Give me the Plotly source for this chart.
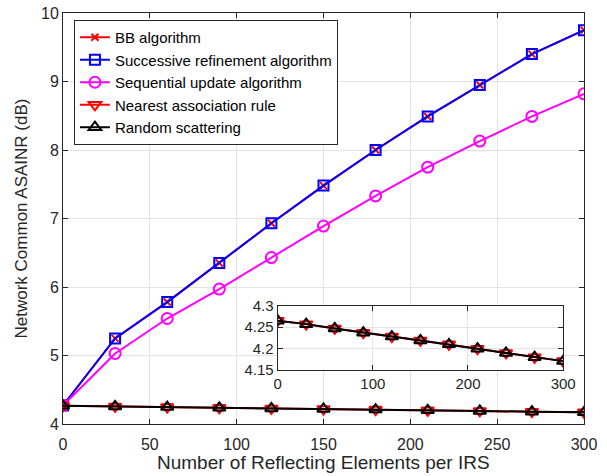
import plotly.graph_objects as go

elements = [0, 30, 60, 90, 120, 150, 180, 210, 240, 270, 300]
bb_alg = [4.27, 5.25, 5.78, 6.35, 6.93, 7.48, 8.00, 8.49, 8.95, 9.40, 9.75]
successive = [4.27, 5.25, 5.78, 6.35, 6.93, 7.48, 8.00, 8.49, 8.95, 9.40, 9.75]
sequential = [4.27, 5.03, 5.54, 5.97, 6.43, 6.89, 7.33, 7.75, 8.13, 8.49, 8.82]
nearest = [4.265, 4.257, 4.247, 4.237, 4.228, 4.219, 4.210, 4.200, 4.190, 4.180, 4.171]
random_sc = [4.265, 4.257, 4.247, 4.237, 4.228, 4.219, 4.210, 4.200, 4.190, 4.180, 4.171]

x_title = "Number of Reflecting Elements per IRS"
y_title = "Network Common ASAINR (dB)"

FONT = "Liberation Sans, Arial, sans-serif"
TXT = "#262626"
fig = go.Figure()

def add(y, name, color, symbol, size, xa="x", ya="y", show=True, lw=2, mlw=2):
    fig.add_trace(go.Scatter(
        x=elements, y=y, name=name, mode="lines+markers",
        line=dict(color=color, width=lw),
        marker=dict(symbol=symbol, size=size, color=color, line=dict(color=color, width=mlw)),
        xaxis=xa, yaxis=ya, showlegend=show))

add(bb_alg, "BB algorithm", "#ff0000", "x-thin-open", 7)
add(successive, "Successive refinement algorithm", "#0000ff", "square-open", 10)
add(sequential, "Sequential update algorithm", "#ff00ff", "circle-open", 11)
add(nearest, "Nearest association rule", "#ff0000", "triangle-down-open", 11)
add(random_sc, "Random scattering", "#000000", "triangle-up-open", 11)

# inset
add(nearest, "Nearest association rule", "#ff0000", "triangle-down-open", 11, "x2", "y2", False)
add(random_sc, "Random scattering", "#000000", "triangle-up-open", 11, "x2", "y2", False)

def axis_common(fs):
    return dict(showline=True, linecolor=TXT, linewidth=1, mirror="ticks",
                ticks="inside", ticklen=5, tickcolor=TXT, automargin=False,
                showgrid=True, gridcolor="#e3e3e3", gridwidth=1, zeroline=False,
                tickfont=dict(family=FONT, size=fs, color=TXT))

fig.update_layout(
    width=607, height=476,
    margin=dict(l=63, r=23, t=13, b=52, autoexpand=False),
    paper_bgcolor="white", plot_bgcolor="white",
    font=dict(family=FONT, size=16, color=TXT),
    xaxis=dict(range=[0, 300], dtick=50, domain=[0, 1], ticklabelstandoff=6,
               **axis_common(16)),
    yaxis=dict(range=[4, 10], dtick=1, domain=[0, 1],
               **axis_common(16)),
    xaxis2=dict(range=[0, 300], tickvals=[0, 100, 200, 300], domain=[0.412, 0.960],
                anchor="y2", **axis_common(15)),
    yaxis2=dict(range=[4.15, 4.3], tickvals=[4.15, 4.2, 4.25, 4.3], domain=[0.131, 0.288],
                anchor="x2", **axis_common(15)),
    legend=dict(x=0.021, y=0.983, xanchor="left", yanchor="top",
                bgcolor="white", bordercolor=TXT, borderwidth=1,
                font=dict(family=FONT, size=15, color="black"),
                tracegroupgap=0, itemwidth=30),
    shapes=[dict(type="rect", xref="x2 domain", yref="y2 domain", x0=0, x1=1, y0=0, y1=1,
                 fillcolor="white", line=dict(width=0), layer="below")],
    annotations=[
        dict(text=x_title, xref="paper", yref="paper", x=0.5, y=-0.125,
             xanchor="center", yanchor="bottom", showarrow=False,
             font=dict(family=FONT, size=19, color=TXT)),
        dict(text=y_title, xref="paper", yref="paper", x=-0.0787, y=0.5,
             xanchor="center", yanchor="middle", showarrow=False, textangle=-90,
             font=dict(family=FONT, size=17, color=TXT)),
    ],
)

fig.write_html("out.html", config={"displayModeBar": False},
               post_script="document.body.style.margin='0';")
